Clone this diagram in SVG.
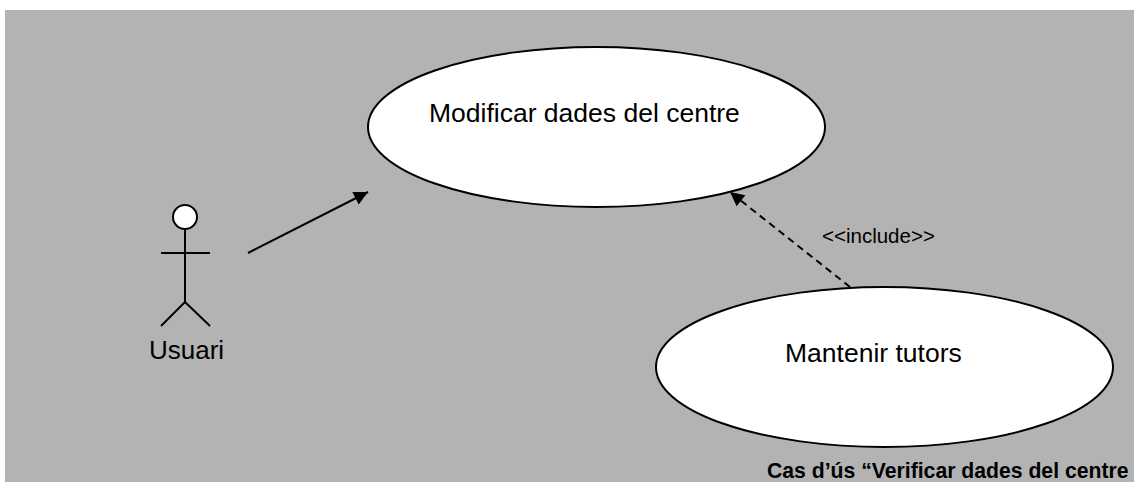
<svg xmlns="http://www.w3.org/2000/svg" width="1134" height="482" viewBox="0 0 1134 482">
<style>
.uc{fill:#ffffff;stroke:#000000;stroke-width:2}
.t{font-family:"Liberation Sans",Arial,sans-serif;fill:#000000}
.edge{stroke:#000000;stroke-width:2;fill:none}
.actor{stroke:#000000;stroke-width:2;fill:none}
</style>
<defs>
<marker id="tri" viewBox="0 0 10 10" refX="10" refY="5" markerWidth="16" markerHeight="14" markerUnits="userSpaceOnUse" orient="auto">
<path d="M0,0 L10,5 L0,10 z" fill="#000000"/>
</marker>
</defs>
<rect x="0" y="0" width="1134" height="482" fill="#ffffff"/>
<rect x="5" y="10" width="1129" height="472" fill="#b3b3b3"/>
<g id="uc-modificar">
<ellipse class="uc" cx="596.5" cy="127" rx="228.5" ry="80"/>
<text class="t" x="429" y="122" font-size="26.5">Modificar dades del centre</text>
</g>
<g id="uc-mantenir">
<ellipse class="uc" cx="884.5" cy="367" rx="228.5" ry="80"/>
<text class="t" x="785" y="362" font-size="26.5">Mantenir tutors</text>
</g>
<g id="actor-usuari">
<circle cx="185" cy="217" r="12" fill="#ffffff" stroke="#000000" stroke-width="2"/>
<line class="actor" x1="185" y1="229" x2="185" y2="302"/>
<line class="actor" x1="161" y1="253" x2="210" y2="253"/>
<line class="actor" x1="185" y1="302" x2="161" y2="326"/>
<line class="actor" x1="185" y1="302" x2="210" y2="326"/>
<text class="t" x="149" y="359" font-size="26">Usuari</text>
</g>
<g id="connectors">
<line class="edge" x1="248" y1="253" x2="368" y2="192" marker-end="url(#tri)"/>
<line class="edge" x1="850" y1="287" x2="730" y2="192" stroke-dasharray="7,5" marker-end="url(#tri)"/>
<text class="t" x="822" y="243" font-size="20.5">&lt;&lt;include&gt;&gt;</text>
</g>
<text class="t" x="767" y="478" font-size="21.2" font-weight="bold">Cas d’ús “Verificar dades del centre</text>
</svg>
